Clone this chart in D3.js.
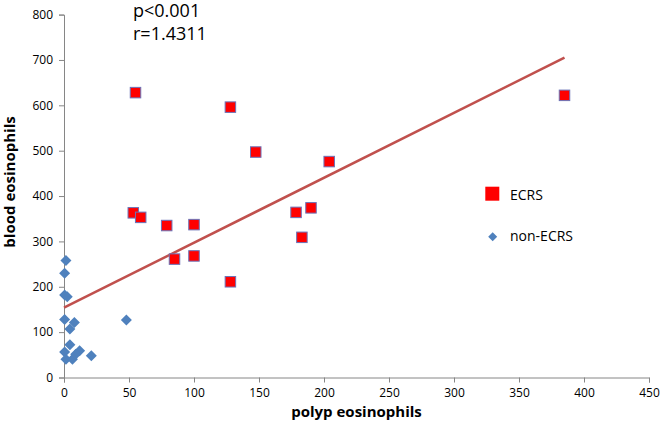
<!DOCTYPE html>
<html><head><meta charset="utf-8">
<script src="https://cdn.jsdelivr.net/npm/d3@7"></script>
<style>body{margin:0;background:#fff}svg{display:block}text{font-family:"Open Sans",sans-serif}</style>
</head><body><svg id="c" width="661" height="427"></svg>
<script>
// Data
const ecrsX = [53.3, 59, 79, 100, 85, 100, 128, 178.5, 190, 183, 55, 128, 147.5, 204, 385];
const ecrsY = [363, 353, 335, 337, 261, 268, 211, 364, 374, 309, 628, 596, 497, 476, 622];
const nonX = [1.5, 0.5, 0.5, 2.5, 0.5, 8, 4.5, 4.5, 0.5, 12, 1.5, 6.5, 9, 21, 48];
const nonY = [258, 230, 182, 178, 128, 121, 107, 72, 56, 59, 40, 40, 51, 48, 127];
const xTicks = [0, 50, 100, 150, 200, 250, 300, 350, 400, 450];
const yTicks = [0, 100, 200, 300, 400, 500, 600, 700, 800];
const fitIntercept = 154, fitSlope = 1.4311, fitXmax = 385;
const statLines = ["p<0.001", "r=1.4311"];
const seriesNames = ["ECRS", "non-ECRS"];

const W = 661, H = 427;
const m = {l: 64, r: 12, t: 14.6, b: 49.5};
const svg = d3.select("#c");
const x = d3.scaleLinear().domain([0, 450]).range([m.l, W - m.r]);
const y = d3.scaleLinear().domain([0, 800]).range([H - m.b, m.t]);
const axisCol = "#868686";

const gx = svg.append("g").attr("transform", `translate(0,${H - m.b})`)
  .call(d3.axisBottom(x).tickValues(xTicks).tickSize(5).tickPadding(6));
const gy = svg.append("g").attr("transform", `translate(${m.l},0)`)
  .call(d3.axisLeft(y).tickValues(yTicks).tickSize(5).tickPadding(6));
[gx, gy].forEach(g => {
  g.selectAll("path,line").attr("stroke", axisCol).attr("stroke-width", 1);
  g.selectAll("text").attr("fill", "#000").attr("font-size", 12).attr("font-family", "Open Sans");
});

// Title labels
svg.append("text").attr("x", (m.l + W - m.r) / 2).attr("y", 417).attr("text-anchor", "middle")
  .attr("font-size", 15).attr("font-weight", "bold").text("polyp eosinophils");
svg.append("text").attr("transform", `translate(15,182) rotate(-90)`).attr("text-anchor", "middle")
  .attr("font-size", 15).attr("font-weight", "bold").text("blood eosinophils");

// Regression line
svg.append("line")
  .attr("x1", x(0)).attr("y1", y(fitIntercept))
  .attr("x2", x(fitXmax)).attr("y2", y(fitIntercept + fitSlope * fitXmax))
  .attr("stroke", "#C0504D").attr("stroke-width", 2.5);

// non-ECRS diamonds
const nonData = nonX.map((v, i) => [v, nonY[i]]);
const dia = 5.5;
svg.append("g").selectAll("path").data(nonData).join("path")
  .attr("d", d => `M${x(d[0])},${y(d[1]) - dia}L${x(d[0]) + dia},${y(d[1])}L${x(d[0])},${y(d[1]) + dia}L${x(d[0]) - dia},${y(d[1])}Z`)
  .attr("fill", "#4F81BD");

// ECRS squares
const ecrsData = ecrsX.map((v, i) => [v, ecrsY[i]]);
const sq = 10.5;
svg.append("g").selectAll("rect").data(ecrsData).join("rect")
  .attr("x", d => x(d[0]) - sq / 2).attr("y", d => y(d[1]) - sq / 2)
  .attr("width", sq).attr("height", sq)
  .attr("fill", "#FF0000").attr("stroke", "#6B73B8").attr("stroke-width", 1);

// Stats text
svg.append("text").attr("x", 133).attr("y", 17).attr("font-size", 18).text(statLines[0]);
svg.append("text").attr("x", 133).attr("y", 40).attr("font-size", 18).text(statLines[1]);

// Legend
svg.append("rect").attr("x", 485.3).attr("y", 186.7).attr("width", 14).attr("height", 14).attr("fill", "#FF0000");
svg.append("text").attr("x", 510).attr("y", 200).attr("font-size", 14).text(seriesNames[0]);
const ld = 4.5, lx = 492.7, ly = 236.7;
svg.append("path").attr("d", `M${lx},${ly - ld}L${lx + ld},${ly}L${lx},${ly + ld}L${lx - ld},${ly}Z`).attr("fill", "#4F81BD");
svg.append("text").attr("x", 510).attr("y", 241).attr("font-size", 14).text(seriesNames[1]);
</script></body></html>
